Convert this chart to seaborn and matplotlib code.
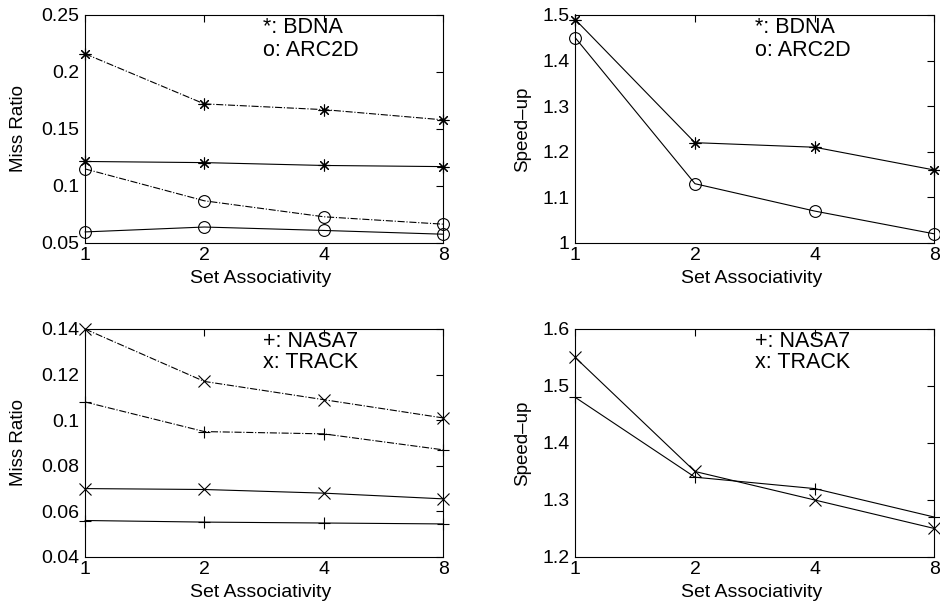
import matplotlib
matplotlib.use("Agg")
import matplotlib.pyplot as plt
import seaborn as sns

# set associativity on the x axis
assoc = [1, 2, 4, 8]

# miss ratio, dash-dot and solid curves
bdna_miss_dd = [0.216, 0.172, 0.167, 0.158]
bdna_miss = [0.1215, 0.1205, 0.118, 0.117]
arc2d_miss_dd = [0.115, 0.087, 0.073, 0.0665]
arc2d_miss = [0.0597, 0.064, 0.061, 0.0577]

nasa7_miss_dd = [0.108, 0.095, 0.094, 0.087]
nasa7_miss = [0.056, 0.0553, 0.0549, 0.0545]
track_miss_dd = [0.14, 0.117, 0.109, 0.101]
track_miss = [0.070, 0.0696, 0.068, 0.0655]

# speed-up
bdna_speed = [1.49, 1.22, 1.21, 1.16]
arc2d_speed = [1.45, 1.13, 1.07, 1.02]
nasa7_speed = [1.48, 1.34, 1.32, 1.27]
track_speed = [1.55, 1.35, 1.30, 1.25]

sns.set_style("white")
plt.rcParams['font.family'] = ['Liberation Sans', 'DejaVu Sans']
plt.rcParams['text.color'] = 'black'
plt.rcParams['axes.labelcolor'] = 'black'
plt.rcParams['xtick.color'] = 'black'
plt.rcParams['ytick.color'] = 'black'

FS = 14
ast = (8, 2, 0)

fig = plt.figure(figsize=(9.4, 6.07), dpi=100)
ax1 = fig.add_axes([0.0904, 0.5997, 0.381, 0.3756])
ax2 = fig.add_axes([0.612, 0.5997, 0.382, 0.3756])
ax3 = fig.add_axes([0.0904, 0.0824, 0.381, 0.3756])
ax4 = fig.add_axes([0.612, 0.0824, 0.382, 0.3756])


def curve(ax, y, mk, ls):
    sns.lineplot(x=assoc, y=y, ax=ax, color='black', linewidth=0.8, linestyle=ls,
                 marker=mk, markersize=8.5, mfc='none', mec='black', mew=0.8,
                 clip_on=False)


curve(ax1, bdna_miss_dd, ast, '-.')
curve(ax1, bdna_miss, ast, '-')
curve(ax1, arc2d_miss_dd, 'o', '-.')
curve(ax1, arc2d_miss, 'o', '-')

curve(ax2, bdna_speed, ast, '-')
curve(ax2, arc2d_speed, 'o', '-')

curve(ax3, track_miss_dd, 'x', '-.')
curve(ax3, nasa7_miss_dd, '+', '-.')
curve(ax3, track_miss, 'x', '-')
curve(ax3, nasa7_miss, '+', '-')

curve(ax4, track_speed, 'x', '-')
curve(ax4, nasa7_speed, '+', '-')

ax1.set_ylim(0.05, 0.25)
ax1.set_yticks([0.05, 0.1, 0.15, 0.2, 0.25])
ax1.set_yticklabels(['0.05', '0.1', '0.15', '0.2', '0.25'])
ax2.set_ylim(1.0, 1.5)
ax2.set_yticks([1.0, 1.1, 1.2, 1.3, 1.4, 1.5])
ax2.set_yticklabels(['1', '1.1', '1.2', '1.3', '1.4', '1.5'])
ax3.set_ylim(0.04, 0.14)
ax3.set_yticks([0.04, 0.06, 0.08, 0.1, 0.12, 0.14])
ax3.set_yticklabels(['0.04', '0.06', '0.08', '0.1', '0.12', '0.14'])
ax4.set_ylim(1.2, 1.6)
ax4.set_yticks([1.2, 1.3, 1.4, 1.5, 1.6])
ax4.set_yticklabels(['1.2', '1.3', '1.4', '1.5', '1.6'])

for ax in [ax1, ax2, ax3, ax4]:
    ax.set_xscale('log', base=2)
    ax.set_xlim(1, 8)
    ax.set_xticks(assoc)
    ax.set_xticklabels(['1', '2', '4', '8'])
    ax.minorticks_off()
    ax.tick_params(direction='in', top=True, right=True, length=5, width=0.8,
                   labelsize=FS, colors='black')
    ax.tick_params(axis='x', pad=3)
    ax.tick_params(axis='y', pad=4)
    for s in ax.spines.values():
        s.set_linewidth(0.8)
        s.set_color('black')
    ax.set_xlabel('Set Associativity', fontsize=FS, va='top')
    ax.xaxis.set_label_coords(0.49, -0.119)

ax1.set_ylabel('Miss Ratio', fontsize=13.5, va='center')
ax3.set_ylabel('Miss Ratio', fontsize=13.5, va='center')
ax2.set_ylabel('Speed\u2013up', fontsize=13.5, va='center')
ax4.set_ylabel('Speed\u2013up', fontsize=13.5, va='center')
ax1.yaxis.set_label_coords(-0.185, 0.5)
ax3.yaxis.set_label_coords(-0.185, 0.5)
ax2.yaxis.set_label_coords(-0.148, 0.5)
ax4.yaxis.set_label_coords(-0.148, 0.5)

LFS = 15.5
ax1.text(0.497, 0.947, '*: BDNA', transform=ax1.transAxes, va='center', fontsize=LFS)
ax1.text(0.497, 0.846, 'o: ARC2D', transform=ax1.transAxes, va='center', fontsize=LFS)
ax2.text(0.501, 0.947, '*: BDNA', transform=ax2.transAxes, va='center', fontsize=LFS)
ax2.text(0.501, 0.846, 'o: ARC2D', transform=ax2.transAxes, va='center', fontsize=LFS)
ax3.text(0.497, 0.943, '+: NASA7', transform=ax3.transAxes, va='center', fontsize=LFS)
ax3.text(0.497, 0.851, 'x: TRACK', transform=ax3.transAxes, va='center', fontsize=LFS)
ax4.text(0.501, 0.943, '+: NASA7', transform=ax4.transAxes, va='center', fontsize=LFS)
ax4.text(0.501, 0.851, 'x: TRACK', transform=ax4.transAxes, va='center', fontsize=LFS)

fig.savefig('out.png', dpi=100)
